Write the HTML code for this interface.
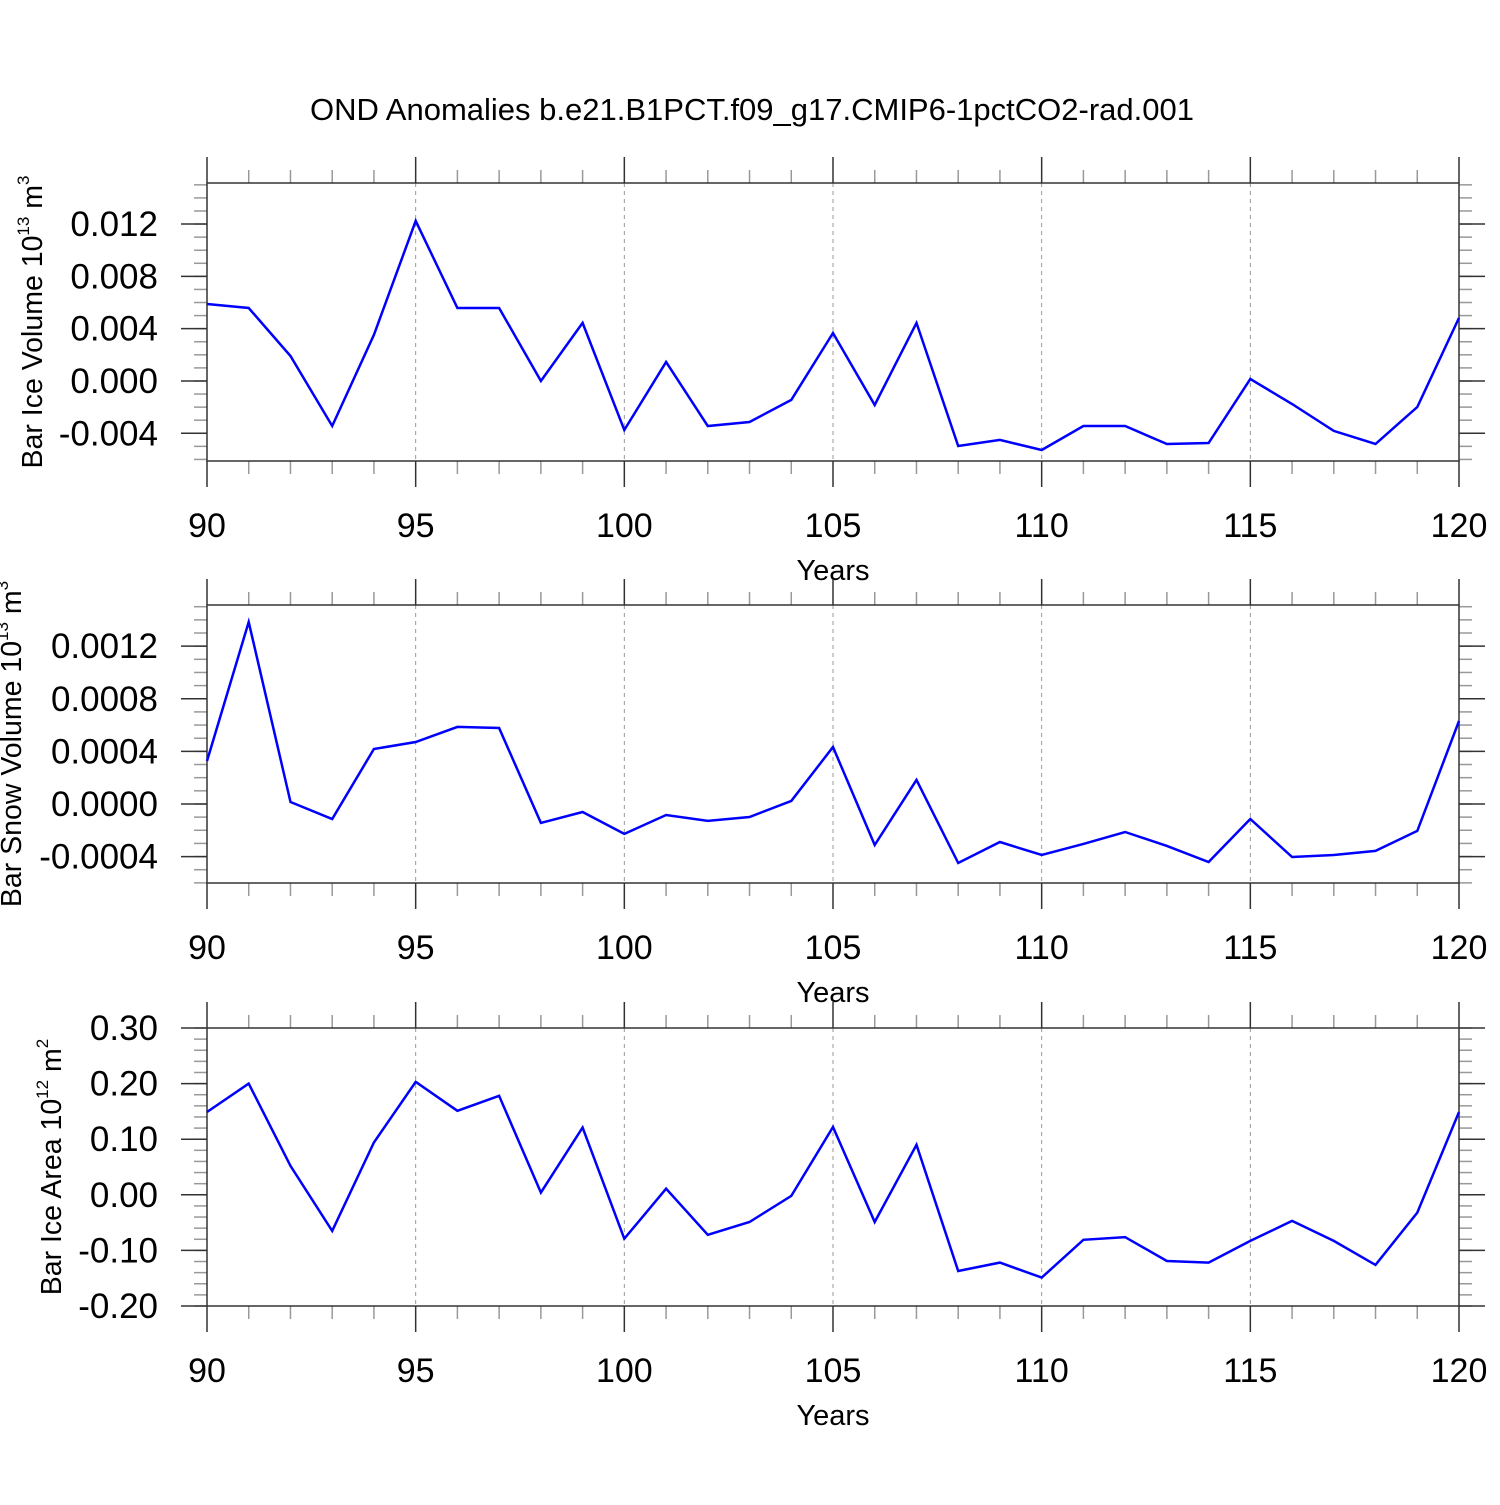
<!DOCTYPE html>
<html><head><meta charset="utf-8"><style>
html,body{margin:0;padding:0;background:#fff}
svg text{font-family:"Liberation Sans",Arial,sans-serif;fill:#000}
</style></head><body>
<svg id="chart" width="1500" height="1500" xmlns="http://www.w3.org/2000/svg">
<text x="752" y="120" font-size="31" text-anchor="middle">OND Anomalies b.e21.B1PCT.f09_g17.CMIP6-1pctCO2-rad.001</text>
</svg>
<script>
const years = [90,91,92,93,94,95,96,97,98,99,100,101,102,103,104,105,106,107,108,109,110,111,112,113,114,115,116,117,118,119,120];
const iceVolume = [0.00589,0.00558,0.00191,-0.00344,0.00352,0.01224,0.00558,0.00558,0.0000,0.00444,-0.00375,0.00145,-0.00344,-0.00314,-0.00145,0.00367,-0.00184,0.00444,-0.00497,-0.00451,-0.00528,-0.00344,-0.00344,-0.00482,-0.00474,0.00015,-0.00176,-0.00382,-0.00482,-0.00199,0.00482];
const snowVolume = [0.000327,0.001384,0.000015,-0.000114,0.000418,0.000471,0.000586,0.000578,-0.000144,-0.000061,-0.000228,-0.000084,-0.000129,-0.000099,0.000023,0.000433,-0.000312,0.000183,-0.000449,-0.000289,-0.000388,-0.000304,-0.000213,-0.000319,-0.000441,-0.000114,-0.000403,-0.000388,-0.000357,-0.000205,0.000631];
const iceArea = [0.149,0.200,0.052,-0.065,0.094,0.203,0.151,0.178,0.004,0.121,-0.079,0.011,-0.072,-0.049,-0.002,0.122,-0.049,0.090,-0.137,-0.122,-0.149,-0.081,-0.076,-0.119,-0.122,-0.083,-0.047,-0.083,-0.126,-0.032,0.149];
const xTicks = [90,95,100,105,110,115,120];
const iceVolTicks = [-0.004,0.000,0.004,0.008,0.012];
const iceVolLabels = ["-0.004","0.000","0.004","0.008","0.012"];
const snowTicks = [-0.0004,0,0.0004,0.0008,0.0012];
const snowLabels = ["-0.0004","0.0000","0.0004","0.0008","0.0012"];
const areaTicks = [-0.2,-0.1,0,0.1,0.2,0.3];
const areaLabels = ["-0.20","-0.10","0.00","0.10","0.20","0.30"];

const NS="http://www.w3.org/2000/svg";
const svg=document.getElementById('chart');
function mk(tag,attrs){const e=document.createElementNS(NS,tag);for(const k in attrs)e.setAttribute(k,attrs[k]);svg.appendChild(e);return e;}
const X0=207,X1=1459;
function xs(v){return X0+(v-90)/(120-90)*(X1-X0);}

function panel(id,top,bot,ymin,ymax,data,ticks,labels,minorStep,titleMain,titleExp,titleUnit,titleExp2,titleX){
  const ys=v=>bot-(v-ymin)/(ymax-ymin)*(bot-top);
  for(const t of [95,100,105,110,115]){
    const g=mk('line',{x1:xs(t),x2:xs(t),y1:top,y2:bot,stroke:'#999','stroke-width':1,'stroke-dasharray':'4,4'});
    
    
  }
  for(let y=90;y<=120;y++){
    if(y%5===0)continue;
    mk('line',{x1:xs(y),x2:xs(y),y1:top-13,y2:top,stroke:'#999','stroke-width':1.5});
    mk('line',{x1:xs(y),x2:xs(y),y1:bot,y2:bot+13,stroke:'#999','stroke-width':1.5});
  }
  const n0=Math.ceil(ymin/minorStep-1e-6), n1=Math.floor(ymax/minorStep+1e-6);
  for(let i=n0;i<=n1;i++){
    const yy=ys(i*minorStep);
    mk('line',{x1:X0-13,x2:X0,y1:yy,y2:yy,stroke:'#999','stroke-width':1.5});
    mk('line',{x1:X1,x2:X1+13,y1:yy,y2:yy,stroke:'#999','stroke-width':1.5});
  }
  const fr=mk('rect',{x:X0,y:top,width:X1-X0,height:bot-top,fill:'none',stroke:'#333','stroke-width':1.5});
  
  
  xTicks.forEach(t=>{
    mk('line',{x1:xs(t),x2:xs(t),y1:top-26,y2:top,stroke:'#333','stroke-width':1.5});
    mk('line',{x1:xs(t),x2:xs(t),y1:bot,y2:bot+26,stroke:'#333','stroke-width':1.5});
    const tx=mk('text',{x:xs(t),y:bot+76,'font-size':34,'text-anchor':'middle'});
    tx.textContent=t;
    
    
  });
  const xt=mk('text',{x:833,y:bot+119,'font-size':29,'text-anchor':'middle'});
  xt.textContent='Years';
  
  
  ticks.forEach((t,i)=>{
    const yy=ys(t);
    mk('line',{x1:X0-26,x2:X0,y1:yy,y2:yy,stroke:'#333','stroke-width':1.5});
    mk('line',{x1:X1,x2:X1+26,y1:yy,y2:yy,stroke:'#333','stroke-width':1.5});
    const tx=mk('text',{x:158,y:yy+12,'font-size':35,'text-anchor':'end'});
    tx.textContent=labels[i];
    
    
  });
  const cy=(top+bot)/2;
  const yt=mk('text',{x:0,y:0,'font-size':28.5,'text-anchor':'middle',transform:`translate(${titleX},${cy}) rotate(-90)`});
  
  
  yt.innerHTML=`${titleMain}<tspan dy="-13" font-size="17">${titleExp}</tspan><tspan dy="13"> ${titleUnit}</tspan><tspan dy="-13" font-size="17">${titleExp2}</tspan>`;
  const pts=data.map((v,i)=>xs(years[i]).toFixed(1)+','+ys(v).toFixed(1)).join(' ');
  const pl=mk('polyline',{points:pts,fill:'none',stroke:'#0000ff','stroke-width':2.5,'stroke-linejoin':'miter'});
  
  
}
panel('ice-volume',183,461,-0.00612,0.01514,iceVolume,iceVolTicks,iceVolLabels,0.001,'Bar Ice Volume 10','13','m','3',42);
panel('snow-volume',605,883,-0.000601,0.001513,snowVolume,snowTicks,snowLabels,0.0001,'Bar Snow Volume 10','13','m','3',21);
panel('ice-area',1028,1306,-0.2,0.3,iceArea,areaTicks,areaLabels,0.02,'Bar Ice Area 10','12','m','2',61);
</script>
</body></html>
